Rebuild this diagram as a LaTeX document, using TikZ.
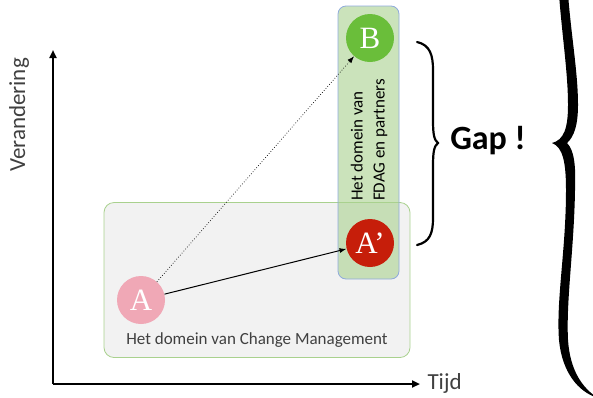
\documentclass[tikz,border=0pt]{standalone}
\usepackage{fontspec}
\setmainfont{Carlito}
\newfontfamily\letterfont{Liberation Serif}
\usetikzlibrary{positioning, arrows.meta}
\definecolor{boxgray}{HTML}{F2F2F2}
\definecolor{boxline}{HTML}{A9D18E}
\definecolor{fdaggreen}{HTML}{A9D18E}
\definecolor{fdagline}{HTML}{8FAADC}
\definecolor{pointA}{HTML}{F0A8B6}
\definecolor{pointAp}{HTML}{C61E0A}
\definecolor{pointB}{HTML}{6ABE3A}
\definecolor{labelgray}{HTML}{404040}
\tikzstyle{pointdot} = [circle, minimum size=48pt, inner sep=0pt, text=white, font=\letterfont\fontsize{31}{33}\selectfont]
\tikzstyle{domainbox} = [rectangle, rounded corners=10pt, line width=0.8pt]
\tikzstyle{axisline} = [line width=2pt, -{Triangle[length=8pt, width=7pt]}]
\tikzstyle{arrow} = [line width=1pt, -{Latex[length=7pt, width=5pt]}]
\tikzstyle{graytext} = [text=labelgray, font=\fontsize{17}{20}\selectfont]

\begin{document}
\begin{tikzpicture}[x=1pt, y={(0pt,-1pt)}]
\useasboundingbox (0,0) rectangle (593,397);
\clip (0,0) rectangle (593,397);

% Domains
\node (CM) [domainbox, draw=boxline, fill=boxgray, minimum width=306pt, minimum height=155pt] at (257,280) {};
\node (CMtext) [graytext] at (257,340) {Het domein van Change Management};
\node (FDAG) [domainbox, rounded corners=8pt, draw=fdagline, fill=fdaggreen, fill opacity=0.6, minimum width=61pt, minimum height=273pt] at (368.5,142.5) {};
\node (FDAGtext) [rotate=90, align=left, font=\fontsize{17}{22}\selectfont] at (369,140) {Het domein van\\FDAG en partners};

% Points
\node (A) [pointdot, fill=pointA] at (141,300) {A};
\node (Ap) [pointdot, fill=pointAp] at (370,243) {A’};
\node (B) [pointdot, fill=pointB] at (370,38) {B};

% Axes
\coordinate (O) at (53,384);
\coordinate (Ytop) at (53,50);
\coordinate (Xend) at (420,384);
\draw[axisline] (O) -- (Ytop);
\draw[axisline] (O) -- (Xend);
\node (Yaxis) [graytext, rotate=90, font=\fontsize{23}{26}\selectfont] at (19,115) {Verandering};
\node (Xaxis) [graytext, anchor=west, font=\fontsize{23}{26}\selectfont] at (424,383) {Tijd};

% Arrows
\draw[arrow] (A) -- (Ap);
\draw[arrow, line width=0.7pt, dotted] (A) -- (B);

% Braces
\draw[line width=2.2pt, line cap=round] (417,42) .. controls (430,45) and (433,55) .. (433,70)
    -- (433,120) .. controls (433,134) and (434,140) .. (438,143)
    .. controls (434,146) and (433,152) .. (433,166)
    -- (433,218) .. controls (433,233) and (430,242) .. (417,245);
\node (Gap) [font=\bfseries\fontsize{34}{36}\selectfont] at (488,141) {Gap !};
\fill (552,143) .. controls (564,140) and (568,128) .. (568,105)
    .. controls (568,70) and (561,30) .. (558,-20) -- (567,-20)
    .. controls (570,30) and (578,70) .. (578,105)
    .. controls (578,125) and (574,137) .. (567,143)
    .. controls (574,150) and (576,165) .. (575,190)
    .. controls (574,250) and (566,300) .. (568,340)
    .. controls (570,370) and (582,388) .. (598,398)
    .. controls (578,392) and (562,372) .. (559,340)
    .. controls (556,300) and (566,250) .. (566,190)
    .. controls (566,163) and (563,147) .. (552,143) -- cycle;

\end{tikzpicture}
\end{document}
